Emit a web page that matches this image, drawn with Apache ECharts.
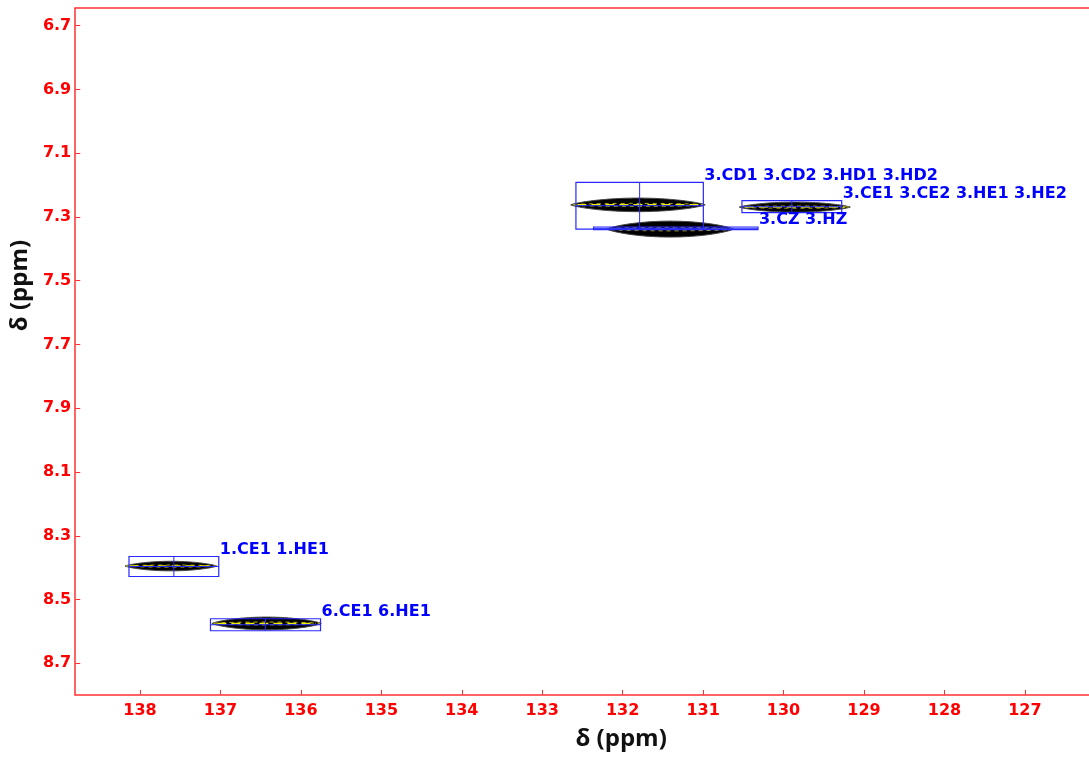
<!DOCTYPE html>
<html>
<head>
<meta charset="utf-8">
<script src="https://cdn.jsdelivr.net/npm/echarts@6/dist/echarts.min.js"></script>
<style>
html,body{margin:0;padding:0;background:#fff;}
#chart{width:1089px;height:760px;}
</style>
</head>
<body>
<div id="chart"></div>
<script>
// ---- data (ppm) ----
const peakLabels = ['1.CE1 1.HE1', '6.CE1 6.HE1', '3.CD1 3.CD2 3.HD1 3.HD2', '3.CE1 3.CE2 3.HE1 3.HE2', '3.CZ 3.HZ'];
// box (assignment window) centre and half-sizes
const boxX = [137.579, 136.440, 131.789, 129.897, 131.340];
const boxY = [8.3963, 8.579, 7.2646, 7.2678, 7.3355];
const boxHalfX = [0.558, 0.684, 0.792, 0.620, 1.022];
const boxHalfY = [0.0314, 0.0188, 0.0732, 0.0188, 0.004];
// contour (peak) centre and half-widths
const peakX = [137.616, 136.426, 131.81, 129.86, 131.41];
const peakY = [8.395, 8.575, 7.262, 7.269, 7.338];
const peakHalfX = [0.57, 0.68, 0.836, 0.69, 0.787];
const peakHalfY = [0.015, 0.020, 0.0213, 0.0157, 0.025];
// axes
const xTicks = [138, 137, 136, 135, 134, 133, 132, 131, 130, 129, 128, 127];
const yTicks = [6.7, 6.9, 7.1, 7.3, 7.5, 7.7, 7.9, 8.1, 8.3, 8.5, 8.7];
const xMin = 126.203, xMax = 138.805;
const yMin = 6.6445, yMax = 8.7994;

const peakData = peakX.map((v, i) => [v, peakY[i], peakHalfX[i], peakHalfY[i]]);
const boxData = boxX.map((v, i) => [v, boxY[i], boxHalfX[i], boxHalfY[i], peakLabels[i]]);

const RED = '#ff0000';
const BLUE = '#2828ff';

function lens(c, w, h, p, span) {
  const top = [], bot = [];
  const N = 60;
  for (let k = 0; k <= N; k++) {
    const t = -span + 2 * span * k / N;
    const f = Math.pow(Math.max(0, 1 - t * t), p);
    top.push([c[0] + t * w, c[1] - h * f]);
    bot.unshift([c[0] + t * w, c[1] + h * f]);
  }
  return top.concat(bot);
}

function renderPeak(params, api) {
  const c = api.coord([api.value(0), api.value(1)]);
  const s = api.size([api.value(2), api.value(3)]);
  const w = s[0], h = s[1];
  return {
    type: 'group',
    children: [
      { type: 'polygon', shape: { points: lens(c, w, h, 0.8, 1) }, style: { fill: '#000', stroke: '#444', lineWidth: 1 } },
      { type: 'polygon', shape: { points: lens(c, w * 0.97, h * 0.22, 0.5, 1) },
        style: { fill: null, stroke: '#b8b820', lineWidth: 1, lineDash: [4, 4] } },
      { type: 'line', shape: { x1: c[0] - w * 0.9, y1: c[1], x2: c[0] + w * 0.9, y2: c[1] },
        style: { stroke: '#f0f000', lineWidth: 1.5, lineDash: [9, 5] } }
    ]
  };
}

function renderBox(params, api) {
  const c = api.coord([api.value(0), api.value(1)]);
  const s = api.size([api.value(2), api.value(3)]);
  const w = s[0], h = Math.max(s[1], 1);
  const label = api.value(4);
  const x1 = c[0] - w, x2 = c[0] + w, y1 = c[1] - h, y2 = c[1] + h;
  return {
    type: 'group',
    children: [
      { type: 'rect', shape: { x: x1, y: y1, width: x2 - x1, height: y2 - y1 },
        style: { fill: null, stroke: BLUE, lineWidth: 1.2 } },
      { type: 'line', shape: { x1: c[0], y1: y1, x2: c[0], y2: y2 }, style: { stroke: BLUE, lineWidth: 1 } },
      { type: 'line', shape: { x1: x1, y1: c[1], x2: x2, y2: c[1] }, style: { stroke: BLUE, lineWidth: 1 } },
      { type: 'text', x: x2 + 1, y: y1 - 7,
        style: { text: label, fill: '#0000ff', font: 'bold 16px "DejaVu Sans"', textAlign: 'left', textVerticalAlign: 'middle' } }
    ]
  };
}

const chart = echarts.init(document.getElementById('chart'), null, { renderer: 'canvas' });
chart.setOption({
  backgroundColor: '#fff',
  animation: false,
  grid: { left: 75, right: -3, top: 8, bottom: 65, containLabel: false },
  xAxis: [{
    type: 'value', inverse: true, min: xMin, max: xMax, position: 'bottom',
    name: 'δ (ppm)', nameLocation: 'middle', nameGap: 32,
    nameTextStyle: { color: '#111', fontFamily: 'Open Sans', fontWeight: 'bold', fontSize: 24, padding: [0, 0, 0, 78] },
    axisLine: { show: true, lineStyle: { color: '#ff3030', width: 1.5 } },
    axisTick: { show: true, inside: true, length: 5, customValues: xTicks, lineStyle: { color: '#ff3030' } },
    axisLabel: { show: true, customValues: xTicks, color: RED, fontFamily: 'DejaVu Sans', fontWeight: 'bold', fontSize: 16, margin: 8 },
    splitLine: { show: false }
  }, {
    type: 'value', inverse: true, min: xMin, max: xMax, position: 'top',
    axisLine: { show: true, lineStyle: { color: '#ff3030', width: 1.5 } },
    axisTick: { show: false }, axisLabel: { show: false }, splitLine: { show: false }
  }],
  yAxis: [{
    type: 'value', inverse: true, min: yMin, max: yMax,
    name: 'δ (ppm)', nameLocation: 'middle', nameGap: 29, nameRotate: 90,
    nameTextStyle: { color: '#111', fontFamily: 'Open Sans', fontWeight: 'bold', fontSize: 24, padding: [0, 0, 0, 132] },
    axisLine: { show: true, lineStyle: { color: '#ff3030', width: 1.5 } },
    axisTick: { show: true, inside: true, length: 5, customValues: yTicks, lineStyle: { color: '#ff3030' } },
    axisLabel: { show: true, customValues: yTicks, color: RED, fontFamily: 'DejaVu Sans', fontWeight: 'bold', fontSize: 16, margin: 4,
      formatter: v => v.toFixed(1) },
    splitLine: { show: false }
  }],
  series: [
    { type: 'custom', coordinateSystem: 'cartesian2d', renderItem: renderPeak, data: peakData, clip: true, z: 2 },
    { type: 'custom', coordinateSystem: 'cartesian2d', renderItem: renderBox, data: boxData, clip: false, z: 3 }
  ]
});
</script>
</body>
</html>
